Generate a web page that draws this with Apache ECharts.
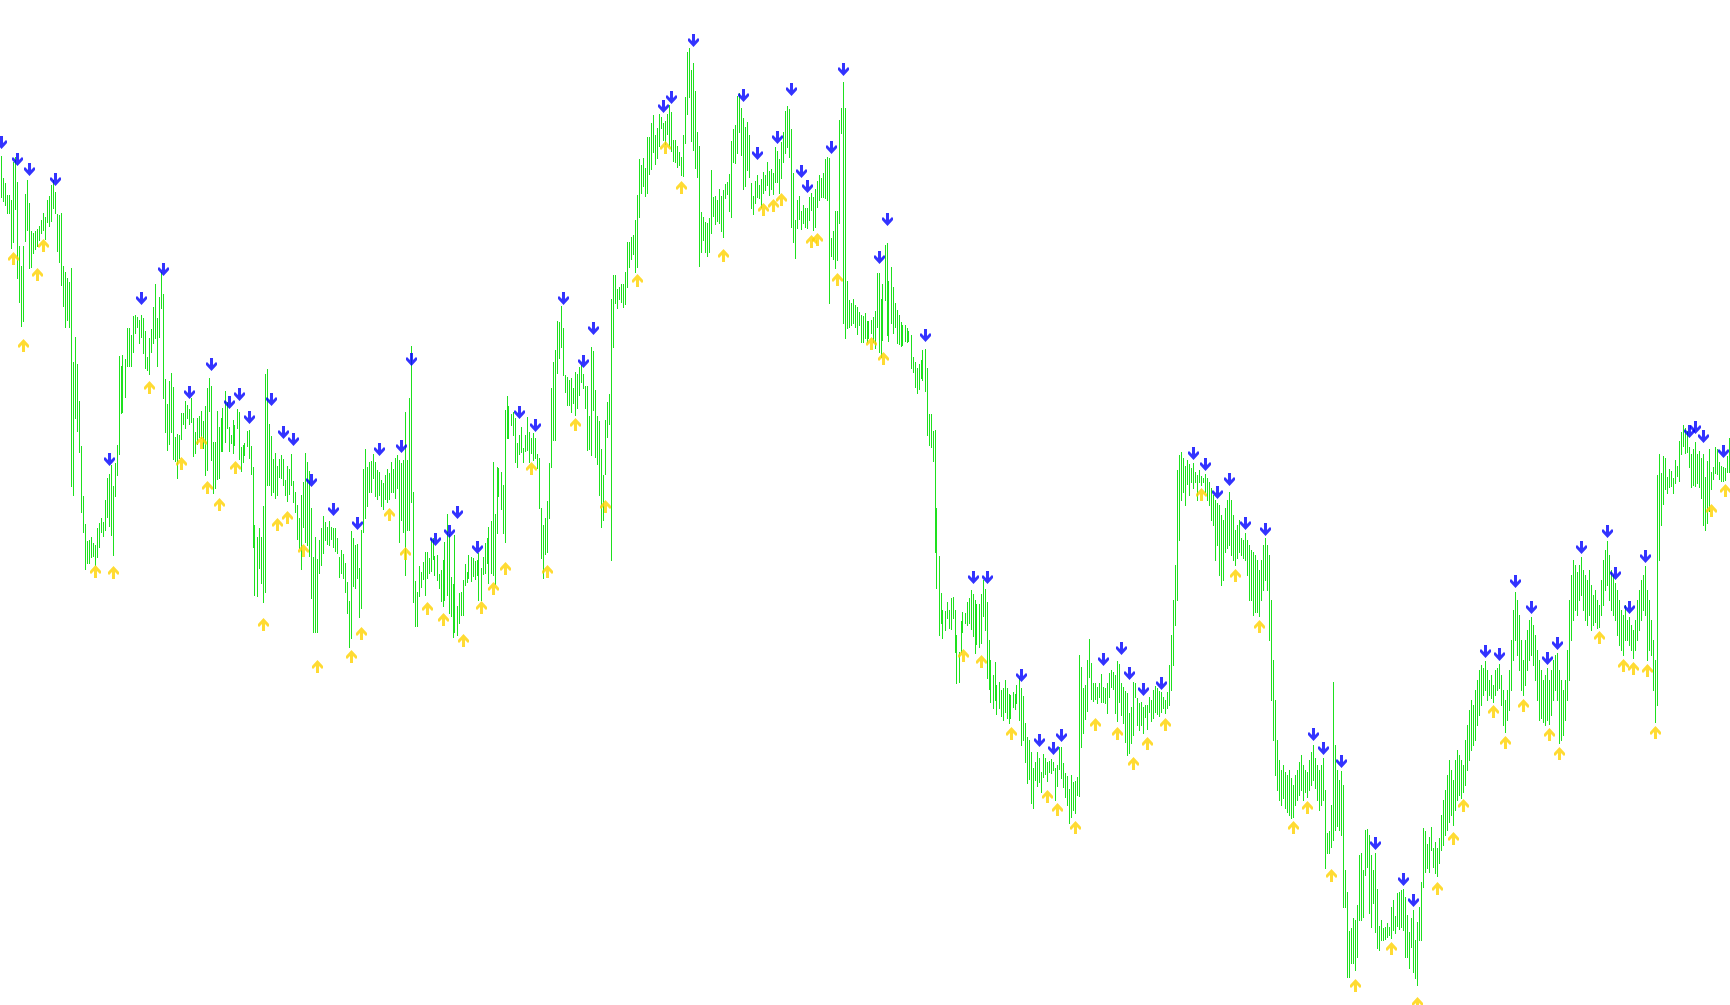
<!DOCTYPE html>
<html><head><meta charset="utf-8">
<script src="https://cdn.jsdelivr.net/npm/echarts@6/dist/echarts.min.js"></script>
<style>html,body{margin:0;padding:0;background:#fff;overflow:hidden}#c{width:1730px;height:1005px}</style>
</head><body><div id="c"></div>
<script>
const highs = [
844,822,817,805,805,800,838,843,818,754,734,754,806,820,797,769,767,769,771,774,780,787,783,800,804,815,820,808,786,785,787,734,728,722,718,732,638,663,636,599,554,504,476,459,460,463,457,455,472,477,482,478,500,522,526,535,514,537,555,644,634,645,641,672,672,665,684,685,683,680,685,682,
669,643,662,671,693,716,682,703,728,706,621,596,619,627,613,563,566,565,587,587,599,595,591,602,582,568,582,584,589,579,594,612,622,614,558,558,589,573,582,592,609,598,573,565,580,575,591,588,553,555,557,569,570,554,533,475,463,472,463,494,626,631,576,564,541,547,534,541,545,541,520,534,
531,546,519,508,495,482,505,518,547,538,529,492,443,463,441,460,472,484,478,473,479,473,472,472,462,443,450,446,437,418,399,469,462,455,456,432,470,531,551,533,538,539,546,538,530,528,520,517,525,531,527,538,531,542,545,540,537,540,588,540,602,654,508,419,408,434,428,438,448,448,442,461,
462,444,445,426,430,440,458,486,466,423,416,465,394,407,408,420,436,428,445,443,442,439,440,447,432,443,457,462,473,479,538,486,533,532,528,515,590,604,594,586,588,582,557,565,573,552,565,583,568,562,567,562,546,542,492,475,482,499,537,612,638,650,679,678,694,672,625,623,620,622,612,628,
626,633,635,626,614,614,584,653,649,610,584,579,551,525,580,598,606,701,725,725,711,713,716,716,728,758,758,763,765,780,805,841,835,842,832,863,863,877,885,865,872,886,883,877,879,886,895,888,860,860,854,848,843,865,903,948,952,930,937,909,868,854,788,783,778,777,782,830,803,804,800,811,
804,810,816,818,826,859,871,875,904,907,892,882,873,878,865,817,804,819,825,815,821,828,825,838,829,831,827,853,849,841,858,868,889,894,891,871,827,780,800,804,789,795,792,792,803,807,803,811,819,825,822,827,841,843,842,762,769,789,789,880,892,918,892,719,700,697,701,695,693,688,685,684,
687,679,679,680,683,689,727,727,701,716,755,757,719,733,713,697,690,685,678,675,675,672,669,665,643,638,632,636,640,650,651,632,586,586,569,570,492,444,407,390,389,398,390,402,403,390,365,348,379,388,387,398,402,410,406,400,396,396,406,420,411,398,360,340,325,338,315,318,310,312,320,312,
306,305,308,306,315,322,312,304,277,263,260,248,232,238,248,242,228,246,242,238,239,241,238,232,235,253,253,237,227,224,211,225,218,219,223,345,333,312,315,340,361,337,317,317,313,317,326,313,312,317,327,330,328,325,339,336,317,313,309,307,287,293,318,317,302,297,298,293,295,295,303,300,
310,314,312,309,308,303,300,308,335,365,400,435,530,545,548,542,534,540,536,532,537,528,525,530,524,522,526,522,518,512,505,500,497,495,485,480,492,500,508,500,485,470,475,480,462,460,467,460,455,450,448,445,440,430,440,455,462,455,445,400,340,300,260,240,230,235,228,225,230,222,215,225,
230,238,245,235,230,228,240,248,255,242,235,230,235,242,210,167,169,195,318,255,230,220,229,215,130,108,69,72,82,80,95,145,147,130,170,171,165,145,130,147,111,74,80,72,73,77,73,93,100,84,107,108,110,111,103,85,68,82,90,60,78,93,118,172,169,156,163,173,152,158,152,162,
185,200,210,225,240,230,220,240,250,245,240,235,260,275,290,300,295,310,320,330,335,332,339,330,320,325,315,330,332,336,325,310,300,310,330,360,390,408,400,385,360,340,360,370,380,383,375,365,350,340,330,320,325,332,320,330,340,345,347,330,320,310,320,350,400,425,440,435,428,435,443,430,
425,420,430,415,405,410,400,395,420,440,450,459,445,430,425,417,410,400,390,385,395,380,383,375,370,380,400,410,420,425,434,410,400,380,360,340,525,546,527,544,542,523,531,529,522,540,534,559,568,575,572,569,553,546,551,558,546,549,542,546,523,539,551,528,533,553,551,538,534,533,532,544,562
];
const lows = [
803,799,795,787,787,752,758,791,722,698,674,679,759,770,732,733,747,751,754,760,767,770,761,778,774,779,792,787,749,738,715,694,673,680,673,514,505,582,569,548,488,468,431,437,437,443,444,435,443,453,468,464,470,483,474,465,445,504,525,546,587,588,603,634,634,634,648,667,673,657,663,647,
632,630,626,648,657,662,634,663,692,602,568,550,556,568,541,539,522,542,561,576,572,582,576,578,544,547,556,563,562,552,525,530,589,540,507,512,521,522,549,549,558,572,549,557,547,555,572,541,529,538,545,554,542,526,453,405,404,432,417,398,408,515,515,505,508,502,505,523,522,515,505,499,
506,515,498,488,461,452,431,473,458,455,444,402,368,368,368,427,435,447,460,456,455,461,453,449,447,423,427,422,408,387,353,362,414,412,422,383,392,468,482,494,508,508,522,504,501,505,494,491,501,498,501,508,508,502,512,458,480,468,425,470,470,498,398,374,374,404,413,421,405,422,427,429,
441,425,420,412,399,394,400,405,387,384,363,368,365,377,385,385,415,418,422,419,424,421,425,400,400,426,427,437,417,427,425,416,467,504,491,467,458,562,562,575,565,538,533,546,548,538,549,550,538,547,540,542,532,492,442,422,446,448,482,533,560,560,627,642,653,625,608,595,595,588,597,585,
592,605,618,612,592,550,551,545,590,543,536,505,473,480,526,563,576,440,653,697,692,701,698,693,696,713,733,741,746,728,733,783,807,814,804,807,826,831,848,836,842,854,872,860,856,866,854,849,839,838,833,835,825,824,857,886,903,859,850,832,823,734,748,760,748,744,748,767,784,776,779,777,
769,763,802,806,789,783,838,837,847,868,845,811,814,830,823,792,786,797,803,802,793,807,810,815,805,811,806,818,818,807,822,838,847,853,843,773,758,742,772,781,771,777,773,772,780,790,770,773,793,800,803,803,802,800,697,744,741,732,740,777,867,677,662,672,673,675,677,673,666,675,658,658,
662,658,662,667,658,652,673,648,643,660,700,665,659,677,667,673,657,656,654,655,659,658,659,632,628,613,607,611,622,620,609,565,555,553,539,448,412,365,377,362,370,382,372,371,382,348,317,318,348,368,377,375,377,371,364,347,356,353,357,384,370,322,311,298,292,300,286,292,284,280,288,282,
277,282,293,291,297,280,255,260,238,217,221,197,192,220,214,218,208,223,226,219,228,227,230,200,214,231,222,213,203,195,177,183,190,187,205,204,253,267,281,289,323,301,299,301,297,303,298,298,297,287,303,313,311,287,279,298,285,277,258,245,247,257,265,303,275,270,275,267,283,271,288,279,
282,288,286,284,288,292,287,292,295,310,335,375,400,460,500,508,495,516,505,518,512,518,500,518,515,518,508,500,495,480,475,440,455,425,415,420,448,452,455,445,440,435,442,448,445,442,440,425,400,400,385,388,388,384,400,410,420,410,360,300,260,225,210,200,195,202,192,188,185,182,183,195,
200,205,210,200,208,203,210,215,220,212,200,190,195,200,132,147,147,153,160,170,174,170,165,93,93,23,23,37,37,30,43,80,80,83,125,133,87,73,97,68,52,50,60,60,61,63,65,62,70,67,74,71,73,70,43,43,32,53,28,22,15,60,60,113,128,132,128,150,133,127,124,137,
150,155,165,170,178,185,175,190,200,205,202,208,215,230,240,250,255,260,275,285,295,305,310,300,305,302,298,305,310,312,295,275,268,280,290,310,340,360,345,330,310,305,315,330,340,345,335,320,300,280,282,278,275,280,276,285,300,310,300,257,260,265,280,300,320,360,380,390,385,400,405,390,
380,375,385,370,375,378,372,373,385,395,410,415,400,390,385,380,365,355,350,345,360,360,355,350,342,350,360,370,380,390,385,340,350,345,310,278,295,440,475,496,511,507,513,514,507,517,524,519,546,554,547,548,533,513,515,514,517,513,502,475,470,477,489,511,521,527,526,521,519,519,520,528,528
];
const downIdx = [0,8,14,27,54,70,81,94,105,114,119,124,135,141,146,155,166,178,189,200,205,217,224,228,238,259,267,281,291,296,331,335,346,371,378,388,395,400,403,415,421,439,443,462,486,493,510,519,526,530,551,560,564,571,580,596,602,608,614,622,632,656,661,670,687,701,706,742,749,757,765,773,778,790,803,807,814,822,844,847,851,861];
const downPrice = [851,834,824,814,534,695,724,601,629,591,599,576,594,561,554,513,484,470,544,547,634,454,462,481,446,581,568,695,632,665,887,896,953,898,840,856,904,822,807,846,924,736,774,658,416,416,318,253,245,258,334,345,320,304,310,540,529,501,514,470,464,259,245,232,150,114,93,342,339,412,386,335,350,446,462,420,386,437,562,566,557,542];
const upIdx = [6,11,18,21,47,56,74,90,100,103,109,117,131,138,143,151,158,175,180,194,202,213,221,231,240,246,252,265,273,287,302,318,332,340,361,381,386,390,405,408,418,435,441,481,490,505,523,528,537,547,558,566,573,582,600,617,629,646,653,665,677,695,708,718,726,731,746,752,761,774,779,799,811,816,823,827,855,862];
const upPrice = [748,661,732,761,435,434,619,543,564,519,502,539,382,482,489,456,340,350,373,492,453,398,387,366,399,418,438,538,435,582,500,726,859,819,751,797,801,807,765,767,727,663,648,351,345,273,210,197,179,282,273,243,263,282,512,431,380,179,199,131,21,58,3,118,168,201,295,264,301,272,253,369,341,338,336,274,496,516];

const categories = highs.map((_, i) => String(i));
const barData = highs.map((h, i) => [i, lows[i], h]);
const downData = downIdx.map((d, k) => [d, downPrice[k]]);
const upData = upIdx.map((d, k) => [d, upPrice[k]]);

const DOWN = 'path://M4,0L7,0L7,7L10,4L11,5L11,7L5.5,13L0,7L0,5L1,4L4,7Z';
const UP = 'path://M4,13L7,13L7,6L10,9L11,8L11,6L5.5,0L0,6L0,8L1,9L4,6Z';

const chart = echarts.init(document.getElementById('c'), null, {renderer: 'canvas'});
chart.setOption({
  animation: false,
  backgroundColor: '#ffffff',
  grid: {left: 0, right: 0, top: 0, bottom: 0},
  xAxis: {type: 'category', data: categories, show: false, boundaryGap: true},
  yAxis: {type: 'value', min: -5, max: 1000, show: false, splitLine: {show: false}},
  series: [
    {
      type: 'custom',
      data: barData,
      encode: {x: 0, y: [1, 2]},
      z: 1,
      silent: true,
      renderItem: function (params, api) {
        const lo = api.coord([api.value(0), api.value(1)]);
        const hi = api.coord([api.value(0), api.value(2)]);
        const x = Math.floor(lo[0]) + 0.5;
        return {
          type: 'line',
          shape: {x1: x, y1: Math.round(hi[1]), x2: x, y2: Math.round(lo[1]) + 1},
          style: {stroke: '#1ee01e', lineWidth: 1}
        };
      }
    },
    {
      type: 'scatter', data: downData, symbol: DOWN, symbolSize: [11, 13],
      symbolOffset: [0.5, -6.5], itemStyle: {color: '#0000ff'}, z: 3, silent: true
    },
    {
      type: 'scatter', data: upData, symbol: UP, symbolSize: [11, 13],
      symbolOffset: [0.5, 6.5], itemStyle: {color: '#ffd200'}, z: 3, silent: true
    }
  ]
});
</script></body></html>
